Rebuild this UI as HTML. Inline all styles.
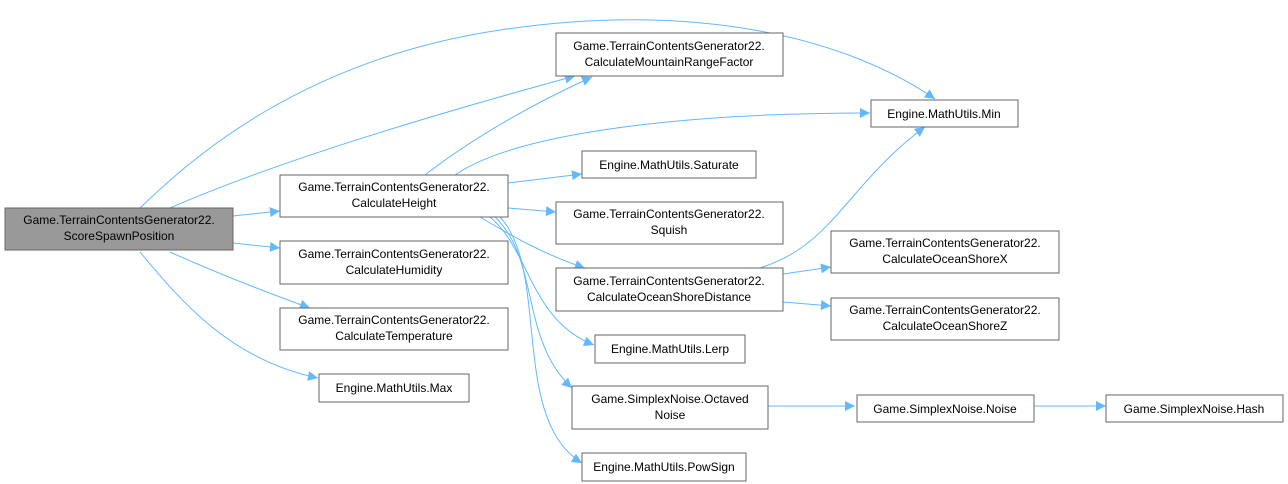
<!DOCTYPE html>
<html><head><meta charset="utf-8"><style>
html,body{margin:0;padding:0;background:#fff;}
svg{display:block;}
text{font-family:"Liberation Sans",Arial,sans-serif;font-size:12px;fill:#000;}
.n{fill:#fff;stroke:#666;stroke-width:1;}
.e{fill:none;stroke:#63b8ff;stroke-width:1;}
</style></head><body>
<svg width="1288" height="484" viewBox="0 0 1288 484" xmlns="http://www.w3.org/2000/svg">
<defs><marker id="a" viewBox="0 0 10 10" refX="10" refY="5" markerWidth="12" markerHeight="10" markerUnits="userSpaceOnUse" orient="auto"><path d="M0,0 L10,5 L0,10 z" fill="#63b8ff"/></marker></defs>
<g class="e" marker-end="url(#a)">
<path d="M140,208 C190,160 300,60 500,30 C700,0 850,40 935,99"/>
<path d="M170,208 C280,160 450,110 575,76"/>
<path d="M233,216 L280,211"/>
<path d="M233,243 L280,248"/>
<path d="M170,252 C210,270 260,290 310,308"/>
<path d="M140,252 C180,300 230,360 318,378"/>
<path d="M425,175 C470,140 530,105 592,77"/>
<path d="M455,175 C520,130 700,113 870,113"/>
<path d="M508,183 L582,174"/>
<path d="M508,208 L556,212"/>
<path d="M480,217 C510,235 545,255 585,268"/>
<path d="M490,217 C530,250 530,320 594,345"/>
<path d="M495,217 C540,260 520,340 572,388"/>
<path d="M500,217 C550,270 510,420 582,463"/>
<path d="M760,268 C800,255 820,235 850,200 C880,165 900,145 925,127"/>
<path d="M783,274 L831,267"/>
<path d="M783,302 L831,306"/>
<path d="M767,406 L855,406"/>
<path d="M1032,406 L1106,406"/>
</g>
<rect x="5" y="208" width="228" height="42" fill="#999" stroke="#666"/>
<text x="119" y="224" text-anchor="middle">Game.TerrainContentsGenerator22.</text>
<text x="119" y="240" text-anchor="middle">ScoreSpawnPosition</text>

<rect class="n" x="280" y="175" width="228" height="42"/>
<text x="394" y="191" text-anchor="middle">Game.TerrainContentsGenerator22.</text>
<text x="394" y="207" text-anchor="middle">CalculateHeight</text>

<rect class="n" x="280" y="241" width="228" height="43"/>
<text x="394" y="258" text-anchor="middle">Game.TerrainContentsGenerator22.</text>
<text x="394" y="274" text-anchor="middle">CalculateHumidity</text>

<rect class="n" x="280" y="308" width="228" height="42"/>
<text x="394" y="324" text-anchor="middle">Game.TerrainContentsGenerator22.</text>
<text x="394" y="340" text-anchor="middle">CalculateTemperature</text>

<rect class="n" x="319" y="374" width="150" height="28"/>
<text x="394" y="392" text-anchor="middle">Engine.MathUtils.Max</text>

<rect class="n" x="556" y="33" width="227" height="43"/>
<text x="669" y="50" text-anchor="middle">Game.TerrainContentsGenerator22.</text>
<text x="669" y="66" text-anchor="middle">CalculateMountainRangeFactor</text>

<rect class="n" x="871" y="100" width="147" height="27"/>
<text x="944" y="118" text-anchor="middle">Engine.MathUtils.Min</text>

<rect class="n" x="582" y="151" width="174" height="27"/>
<text x="669" y="169" text-anchor="middle">Engine.MathUtils.Saturate</text>

<rect class="n" x="556" y="202" width="227" height="42"/>
<text x="669" y="218" text-anchor="middle">Game.TerrainContentsGenerator22.</text>
<text x="669" y="234" text-anchor="middle">Squish</text>

<rect class="n" x="556" y="268" width="227" height="43"/>
<text x="669" y="285" text-anchor="middle">Game.TerrainContentsGenerator22.</text>
<text x="669" y="301" text-anchor="middle">CalculateOceanShoreDistance</text>

<rect class="n" x="831" y="231" width="228" height="42"/>
<text x="945" y="247" text-anchor="middle">Game.TerrainContentsGenerator22.</text>
<text x="945" y="263" text-anchor="middle">CalculateOceanShoreX</text>

<rect class="n" x="831" y="298" width="228" height="42"/>
<text x="945" y="314" text-anchor="middle">Game.TerrainContentsGenerator22.</text>
<text x="945" y="330" text-anchor="middle">CalculateOceanShoreZ</text>

<rect class="n" x="595" y="335" width="150" height="28"/>
<text x="670" y="353" text-anchor="middle">Engine.MathUtils.Lerp</text>

<rect class="n" x="572" y="386" width="196" height="43"/>
<text x="670" y="403" text-anchor="middle">Game.SimplexNoise.Octaved</text>
<text x="670" y="419" text-anchor="middle">Noise</text>

<rect class="n" x="582" y="453" width="164" height="28"/>
<text x="664" y="471" text-anchor="middle">Engine.MathUtils.PowSign</text>

<rect class="n" x="857" y="395" width="177" height="27"/>
<text x="945" y="413" text-anchor="middle">Game.SimplexNoise.Noise</text>

<rect class="n" x="1106" y="395" width="177" height="27"/>
<text x="1194" y="413" text-anchor="middle">Game.SimplexNoise.Hash</text>
</svg>
</body></html>
